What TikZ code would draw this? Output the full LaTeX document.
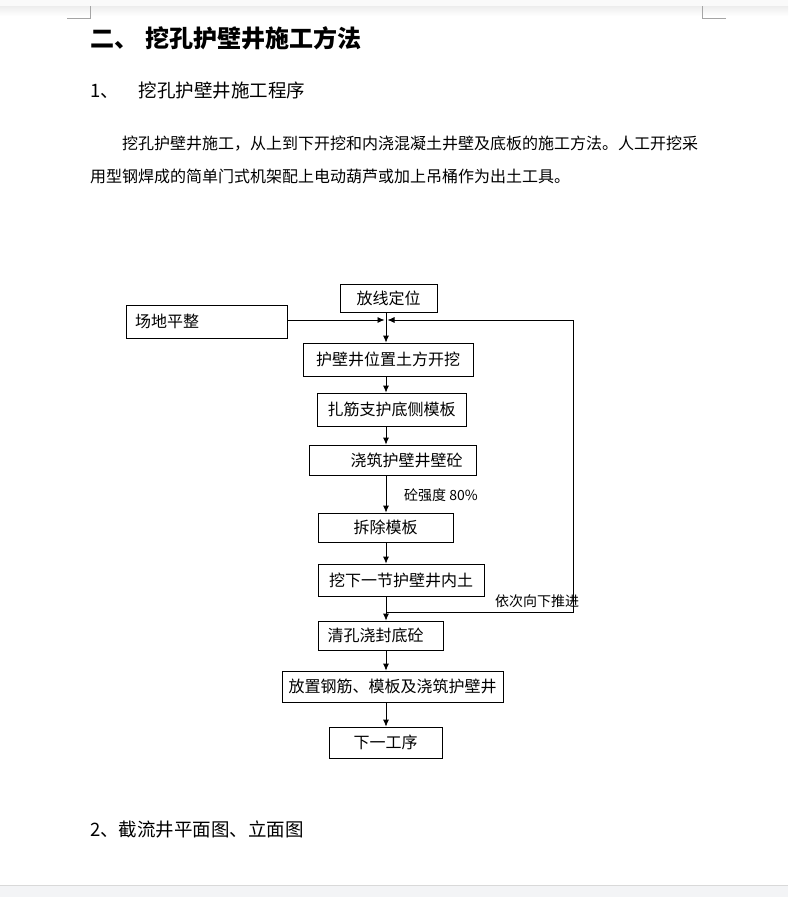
\documentclass[tikz,border=0pt]{standalone}
\usepackage{fontspec}
\setmainfont{Noto Sans CJK SC}
\usepackage{xcolor}
\usetikzlibrary{arrows.meta}
\definecolor{framegray}{RGB}{165,165,165}
\definecolor{bargray}{RGB}{243,244,246}

\begin{document}
\begin{tikzpicture}[
    x=1pt, y=-1pt,
    box/.style={draw, line width=0.8pt, inner sep=0pt, font=\fontsize{16}{16}\selectfont},
    arrow/.style={-{Latex[length=7pt,width=6pt]}, line width=0.8pt},
    txt/.style={anchor=west, inner sep=0pt},
    cornerline/.style={framegray, line width=0.8pt}
]
\useasboundingbox (0,0) rectangle (788,897);

% page frame
\fill[gray!4] (0,0) rectangle (788,6);
\shade[top color=gray!14, bottom color=white] (0,6) rectangle (788,16);
\draw[cornerline] (67,18) -- (90.5,18) -- (90.5,6);
\draw[cornerline] (726,18) -- (702,18) -- (702,6);
\fill[bargray] (0,885) rectangle (788,897);
\draw[gray!30] (0,885) -- (788,885);

% headings and text
\node[txt, font=\fontsize{24}{24}\selectfont\bfseries] (title) at (90,38) {二、\hspace{7pt}挖孔护壁井施工方法};
\node[txt, font=\fontsize{18.5}{19}\selectfont] (sec1) at (90,90) {1、\hspace{20pt}挖孔护壁井施工程序};
\node[txt, font=\fontsize{16}{16}\selectfont] (body1) at (122,144) {挖孔护壁井施工，从上到下开挖和内浇混凝土井壁及底板的施工方法。人工开挖采};
\node[txt, font=\fontsize{16}{16}\selectfont] (body2) at (90,176) {用型钢焊成的简单门式机架配上电动葫芦或加上吊桶作为出土工具。};
\node[txt, font=\fontsize{18.5}{19}\selectfont] (sec2) at (90,829) {2、截流井平面图、立面图};

% flow chart
\node[box, minimum width=97pt, minimum height=28pt] (fangxian) at (388.5,298) {放线定位};
\node[box, minimum width=161pt, minimum height=33pt, text width=143pt, align=left] (changdi) at (206.5,321.5) {场地平整};
\node[box, minimum width=170pt, minimum height=33pt] (kaiwa) at (388,359.5) {护壁井位置土方开挖};
\node[box, minimum width=149pt, minimum height=33pt] (zhajin) at (391.5,409.5) {扎筋支护底侧模板};
\node[box, minimum width=167pt, minimum height=30pt] (jiaozhu) at (392.5,460) {\hspace*{28pt}浇筑护壁井壁砼};
\node[box, minimum width=135pt, minimum height=29pt] (chaichu) at (385.5,527.5) {拆除模板};
\node[box, minimum width=166pt, minimum height=32pt] (waxia) at (401,580) {挖下一节护壁井内土};
\node[box, minimum width=125pt, minimum height=29pt] (qingkong) at (380.5,635.5) {清孔浇封底砼\hspace*{10pt}};
\node[box, minimum width=221pt, minimum height=31pt] (fangzhi) at (392.5,686.5) {放置钢筋、模板及浇筑护壁井};
\node[box, minimum width=113pt, minimum height=31pt] (xiayi) at (385.5,742.5) {下一工序};

\node[txt, font=\fontsize{14}{14}\selectfont] (qiangdu) at (404,495) {砼强度 80\%};
\node[txt, font=\fontsize{14}{14}\selectfont] (tuijin) at (495,601) {依次向下推进};

\coordinate (spine) at (386,0);
\coordinate (meet) at (386,320);
\coordinate (back) at (386,612);
\coordinate (turn) at (573,612);

\draw[arrow] (fangxian.south -| spine) -- (kaiwa.north -| spine);
\draw[arrow] (kaiwa.south -| spine) -- (zhajin.north -| spine);
\draw[arrow] (zhajin.south -| spine) -- (jiaozhu.north -| spine);
\draw[arrow] (jiaozhu.south -| spine) -- (chaichu.north -| spine);
\draw[arrow] (chaichu.south -| spine) -- (waxia.north -| spine);
\draw[arrow] (waxia.south -| spine) -- (qingkong.north -| spine);
\draw[arrow] (qingkong.south -| spine) -- (fangzhi.north -| spine);
\draw[arrow] (fangzhi.south -| spine) -- (xiayi.north -| spine);

% joining lines
\draw[arrow] (changdi.east |- meet) -- ([xshift=-1.5pt]meet);
\draw[arrow] (back) -- (turn) |- ([xshift=1.5pt]meet);
\end{tikzpicture}
\end{document}
